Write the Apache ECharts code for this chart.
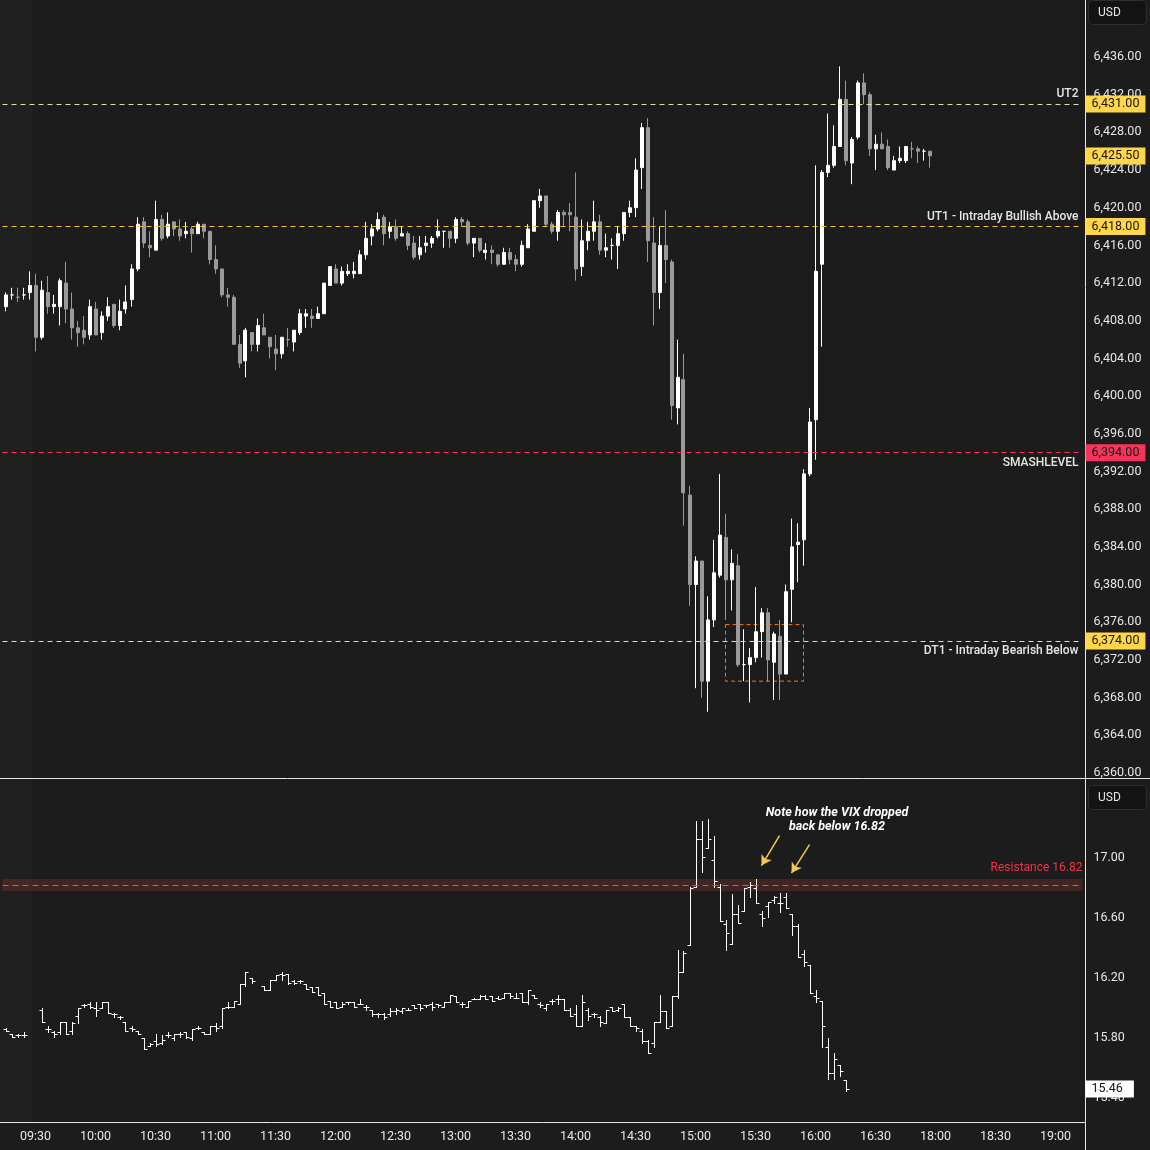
<!DOCTYPE html>
<html><head><meta charset="utf-8">
<script src="https://cdn.jsdelivr.net/npm/echarts@6/dist/echarts.min.js"></script>
<style>html,body{margin:0;padding:0;background:#1c1c1c;}#c{width:1150px;height:1150px;}</style>
</head><body><div id="c"></div>
<script>
// ---------- DATA ----------
function slots(h0, m0, h1, m1) {
  const out = [];
  for (let t = h0 * 60 + m0; t <= h1 * 60 + m1; t += 3) {
    out.push(String(Math.floor(t / 60)).padStart(2, '0') + ':' + String(t % 60).padStart(2, '0'));
  }
  return out;
}
// 3-minute bar slots (session break 17:00-18:00 is skipped)
const times = slots(9, 15, 16, 57).concat(slots(18, 0, 19, 12));

// ES futures 3-min candles, 09:15 ... 16:57
const esOpen = [
6409.5,6410.75,6410.5,6410.75,6411.0,6411.75,6406.25,6411.0,6409.5,
6409.5,6412.0,6409.25,6407.25,6407.0,6406.5,6409.25,6406.75,6408.5,6409.75,
6407.5,6409.25,6410.25,6413.5,6418.5,6416.0,6415.5,6418.75,6417.0,6418.5,
6417.75,6417.25,6417.75,6417.25,6418.25,6417.5,6414.5,6413.5,6410.75,6410.5,
6405.5,6403.75,6406.75,6405.5,6407.25,6406.25,6405.0,6404.5,6406.0,6405.75,
6406.75,6408.5,6408.5,6408.25,6408.75,6411.75,6413.5,6412.0,6413.0,6413.0,
6413.0,6415.0,6417.0,6417.75,6419.0,6417.5,6418.0,6417.0,6417.25,6416.25,
6415.0,6416.0,6416.25,6417.0,6417.5,6417.5,6416.75,6418.75,6418.5,6416.25,
6416.75,6415.25,6415.5,6415.0,6414.0,6415.25,6414.5,6414.0,6415.75,6417.5,
6420.75,6421.25,6418.25,6417.5,6419.5,6419.5,6419.0,6413.75,6416.5,6417.5,
6418.5,6415.5,6416.0,6416.0,6417.25,6419.5,6420.0,6424.25,6428.5,6416.25,
6411.0,6416.0,6414.25,6398.75,6401.75,6389.5,6380.0,6382.5,6369.75,6376.25,
6381.0,6385.0,6380.5,6382.0,6371.5,6371.5,6372.25,6375.0,6377.0,6371.75,
6374.5,6370.5,6379.5,6384.25,6384.75,6391.75,6397.5,6414.0,6423.75,6424.5,
6426.5,6431.5,6424.75,6427.5,6433.25,6432.0,6426.25,6426.75,6426.5,6424.0,
6425.0,6425.0,6426.25,6426.25,6426.0,6426.0];
const esHigh = [
6411.0,6411.5,6411.5,6411.5,6413.25,6413.0,6412.25,6412.75,6410.75,
6412.5,6414.25,6411.0,6408.0,6408.5,6410.25,6410.0,6409.0,6410.5,6409.75,
6410.25,6411.75,6414.0,6419.0,6419.0,6417.5,6420.75,6419.25,6419.5,6418.5,
6418.75,6418.5,6418.0,6418.5,6418.25,6417.5,6416.0,6413.5,6411.5,6410.75,
6406.5,6407.25,6406.75,6408.25,6408.75,6406.25,6406.5,6406.25,6407.25,6407.0,
6409.25,6409.25,6409.25,6409.5,6412.0,6413.75,6414.0,6413.75,6414.0,6414.25,
6415.5,6418.5,6418.25,6419.5,6419.25,6418.5,6418.75,6418.0,6417.5,6417.0,
6417.0,6417.0,6417.0,6418.75,6417.5,6417.5,6419.0,6419.0,6418.75,6416.75,
6416.75,6416.25,6416.0,6415.0,6415.75,6415.75,6415.0,6416.5,6418.25,6420.75,
6422.0,6421.25,6418.5,6419.75,6419.75,6420.5,6423.75,6418.75,6418.5,6420.75,
6419.25,6417.25,6416.75,6418.0,6419.5,6420.75,6425.25,6429.0,6429.5,6419.0,
6418.0,6419.75,6414.5,6406.0,6404.5,6390.5,6383.0,6382.5,6378.75,6384.75,
6391.75,6387.5,6383.75,6383.25,6375.25,6373.25,6379.75,6377.5,6377.5,6375.0,
6376.25,6380.0,6387.0,6386.5,6392.25,6398.75,6424.5,6424.0,6430.0,6428.75,
6435.0,6433.5,6427.5,6433.5,6434.25,6432.25,6427.75,6428.0,6427.25,6425.5,
6426.5,6426.5,6427.0,6426.5,6426.25,6426.0];
const esLow = [
6409.0,6410.25,6410.0,6410.25,6410.25,6404.75,6406.0,6408.75,6408.75,
6407.5,6407.75,6406.0,6405.25,6405.5,6406.0,6406.5,6406.0,6408.0,6407.25,
6407.0,6408.75,6409.5,6413.25,6415.75,6414.75,6415.5,6416.5,6416.75,6417.0,
6416.5,6416.75,6415.25,6417.25,6416.75,6414.0,6413.0,6410.5,6409.5,6405.5,
6403.0,6402.0,6404.75,6404.75,6406.5,6404.0,6402.75,6404.0,6405.25,6404.75,
6406.5,6407.25,6407.25,6408.25,6408.75,6411.75,6412.0,6411.75,6412.75,6412.5,
6413.0,6414.5,6416.0,6417.5,6416.0,6416.75,6416.5,6417.0,6415.5,6414.5,
6414.5,6415.25,6415.75,6416.75,6415.75,6415.75,6416.25,6418.0,6416.0,6414.75,
6415.25,6414.5,6414.0,6413.75,6414.0,6414.0,6413.25,6413.75,6415.75,6417.5,
6420.0,6418.0,6417.25,6416.5,6418.0,6417.5,6412.25,6412.75,6415.5,6416.5,
6415.0,6414.75,6414.5,6413.5,6416.5,6419.0,6419.0,6422.0,6414.25,6407.5,
6409.25,6412.0,6397.5,6397.0,6386.25,6377.75,6369.0,6368.0,6366.5,6375.5,
6380.75,6376.25,6377.25,6371.25,6369.75,6367.5,6371.75,6372.25,6369.75,6367.75,
6367.75,6370.5,6376.0,6380.25,6382.0,6391.5,6393.25,6405.25,6423.25,6424.25,
6426.5,6424.5,6422.5,6427.25,6431.0,6425.5,6424.0,6426.25,6424.0,6424.0,
6424.75,6424.75,6425.25,6424.75,6425.0,6424.25];
const esClose = [
6410.75,6410.75,6410.5,6410.75,6411.75,6406.25,6411.25,6409.5,6409.75,
6412.25,6409.25,6407.25,6406.75,6406.25,6409.5,6406.5,6408.5,6409.5,6407.5,
6409.0,6410.0,6413.5,6418.25,6416.25,6415.75,6418.75,6416.75,6418.25,6417.75,
6417.0,6417.5,6417.25,6418.25,6417.5,6414.5,6413.5,6410.75,6410.5,6405.5,
6403.5,6407.0,6405.5,6407.5,6406.5,6405.25,6404.5,6406.25,6406.0,6407.0,
6408.75,6408.75,6408.25,6408.75,6412.0,6413.75,6412.0,6413.25,6413.25,6413.25,
6415.0,6416.75,6417.75,6418.75,6417.25,6418.0,6416.75,6417.25,6416.0,6414.75,
6415.75,6416.25,6416.75,6417.5,6417.5,6416.75,6418.75,6418.5,6416.25,6416.75,
6415.5,6415.5,6415.25,6414.0,6415.25,6414.5,6414.0,6416.0,6417.75,6420.75,
6421.25,6418.25,6417.5,6419.5,6419.25,6419.25,6413.5,6416.5,6417.5,6418.5,
6415.5,6415.75,6416.0,6417.25,6419.5,6420.0,6424.0,6428.5,6416.5,6411.0,
6416.0,6414.5,6399.0,6402.0,6389.75,6380.0,6382.5,6369.75,6376.25,6381.25,
6385.25,6380.5,6382.25,6371.5,6371.5,6372.25,6375.0,6377.0,6372.0,6374.75,
6370.5,6379.25,6384.0,6384.5,6391.75,6397.25,6413.25,6423.75,6424.5,6426.5,
6431.5,6425.0,6427.25,6433.25,6432.0,6426.25,6426.75,6426.25,6424.25,6425.0,
6425.25,6426.5,6426.25,6426.0,6426.0,6425.5];

// VIX 3-min OHLC bars, 09:15 ... 16:15 (null = no bar)
const vixOpen = [
15.86,15.83,15.82,15.82,null,null,
15.99,15.86,15.84,15.84,15.91,15.85,15.95,16.02,16.03,16.00,
16.00,16.04,15.96,15.94,15.91,15.87,15.85,15.80,15.75,15.78,
15.77,15.82,15.80,15.83,15.84,15.80,15.87,15.84,15.83,15.88,
15.88,16.01,16.01,16.03,16.16,16.20,null,16.15,16.12,16.19,
16.23,16.23,16.18,16.18,16.16,16.14,16.14,16.10,16.05,16.04,
16.01,16.04,16.04,16.03,16.01,15.99,15.96,15.96,15.96,15.98,
15.98,15.99,16.02,16.03,16.02,16.03,16.03,16.01,16.04,16.08,
16.03,16.01,16.06,16.06,16.08,16.08,16.07,16.07,16.10,16.07,
16.10,16.04,16.09,16.03,16.00,16.05,16.06,16.06,15.99,15.96,
15.88,15.99,15.96,15.94,15.90,16.01,15.99,16.03,15.94,15.88,
15.85,15.78,15.77,15.91,15.98,15.88,16.08,16.24,16.42,16.81,
17.13,17.07,16.99,16.81,16.56,16.43,16.63,16.65,16.81,16.80,
16.63,16.68,16.72,16.70,16.74,16.63,16.55,16.36,16.29,16.08,
16.05,15.74,15.57,15.62,15.52];
const vixHigh = [
15.87,15.83,15.83,15.84,null,null,
16.00,15.88,15.85,15.91,15.91,15.91,16.00,16.03,16.04,16.04,
16.04,16.04,15.97,15.95,15.91,15.88,15.85,15.80,15.77,15.83,
15.82,15.84,15.83,15.84,15.84,15.86,15.88,15.84,15.88,15.90,
16.00,16.04,16.05,16.16,16.24,16.20,null,16.15,16.19,16.22,
16.24,16.23,16.19,16.19,16.16,16.14,16.14,16.10,16.05,16.04,
16.04,16.04,16.04,16.06,16.02,15.99,15.97,15.97,16.00,16.00,
16.00,16.00,16.02,16.03,16.02,16.04,16.03,16.04,16.09,16.08,
16.04,16.05,16.07,16.09,16.09,16.08,16.08,16.10,16.10,16.10,
16.10,16.12,16.09,16.04,16.03,16.06,16.09,16.06,16.00,16.02,
16.09,16.00,15.97,15.95,15.99,16.01,16.01,16.03,15.94,15.88,
15.86,15.79,15.91,16.09,15.98,16.08,16.39,16.38,16.81,17.25,
17.25,17.26,17.15,16.83,16.59,16.76,16.69,16.80,16.84,16.86,
16.65,16.71,16.75,16.77,16.77,16.63,16.56,16.39,16.29,16.12,
16.05,15.80,15.70,15.62,15.52];
const vixLow = [
15.85,15.81,15.81,15.81,null,null,
15.91,15.84,15.81,15.83,15.83,15.83,15.90,16.01,16.00,15.95,
16.00,15.97,15.94,15.93,15.85,15.85,15.83,15.73,15.75,15.75,
15.76,15.81,15.79,15.81,15.80,15.79,15.86,15.83,15.83,15.85,
15.87,16.00,16.01,16.03,16.15,16.17,null,16.12,16.12,16.19,
16.19,16.16,16.16,16.17,16.13,16.11,16.09,16.03,16.01,16.00,
16.01,16.03,16.01,16.03,15.99,15.95,15.94,15.93,15.95,15.96,
15.97,15.99,16.00,15.99,16.01,15.99,16.01,16.01,16.04,16.04,
16.01,16.01,16.06,16.06,16.06,16.05,16.06,16.07,16.07,16.07,
16.04,16.03,16.07,16.01,15.99,16.03,16.03,15.99,15.95,15.88,
15.88,15.92,15.94,15.88,15.90,15.98,15.98,15.94,15.88,15.85,
15.77,15.70,15.74,15.91,15.87,15.88,16.07,16.24,16.42,16.81,
16.91,17.07,16.81,16.58,16.39,16.43,16.57,16.65,16.74,16.70,
16.55,16.61,16.70,16.64,16.67,16.49,16.34,16.28,16.10,16.04,
15.74,15.53,15.53,15.55,15.45];
const vixClose = [
15.85,15.81,15.82,15.82,null,null,
15.91,15.86,15.83,15.91,15.83,15.90,16.00,16.02,16.01,15.99,
16.04,15.97,15.96,15.94,15.85,15.86,15.83,15.73,15.76,15.76,
15.79,15.82,15.83,15.83,15.81,15.86,15.87,15.83,15.88,15.87,
16.00,16.01,16.05,16.16,16.24,16.18,null,16.12,16.19,16.22,
16.22,16.17,16.17,16.18,16.13,16.11,16.09,16.03,16.01,16.00,
16.03,16.04,16.01,16.03,16.01,15.96,15.96,15.94,15.98,15.99,
16.00,15.99,16.00,16.00,16.02,16.01,16.02,16.04,16.09,16.04,
16.03,16.05,16.06,16.08,16.06,16.05,16.06,16.10,16.08,16.07,
16.04,16.12,16.07,16.02,16.03,16.05,16.06,15.99,15.95,15.88,
16.04,15.95,15.96,15.91,15.99,15.98,16.00,15.94,15.88,15.87,
15.78,15.70,15.91,15.98,15.87,16.08,16.24,16.37,16.80,17.13,
17.01,17.13,16.85,16.58,16.50,16.63,16.57,16.80,16.82,16.70,
16.60,16.71,16.74,16.70,16.67,16.55,16.34,16.31,16.10,16.07,
15.88,15.57,15.66,15.58,15.46];

// Price axis tick labels
const esTicks = [6360,6364,6368,6372,6376,6380,6384,6388,6392,6396,6400,6404,6408,6412,6416,6420,6424,6428,6432,6436];
const vixTicks = [15.40,15.80,16.20,16.60,17.00];

// Key levels
const levelValues = [6431, 6418, 6394, 6374];
const levelNames  = ['UT2', 'UT1 - Intraday Bullish Above', 'SMASHLEVEL', 'DT1 - Intraday Bearish Below'];
const vixResistance = 16.82;
const vixBand = [16.78, 16.86];
// Highlighted box (time range, price range)
const boxTimes = ['15:15', '15:54'];
const boxPrices = [6375.75, 6369.75];
// VIX note arrows [startTime, startVal, endTime, endVal]
const arrows = [['15:42', 17.15, '15:33', 16.95], ['15:57', 17.09, '15:48', 16.90]];

// ---------- CHART ----------
const FONT = 'Roboto, "Noto Sans", sans-serif';
const fmtP = v => v.toLocaleString('en-US', {minimumFractionDigits: 2, maximumFractionDigits: 2});
const YEL = '#ffd54a';

const candles = esOpen.map((o, i) => [o, esClose[i], esLow[i], esHigh[i]]);
const vixData = [];
vixOpen.forEach((o, i) => { if (o != null) vixData.push([i, o, vixHigh[i], vixLow[i], vixClose[i]]); });
const lastES = esClose[esClose.length - 1];
const lastVix = vixData[vixData.length - 1][4];

function tag(val, bg, fg, txt, padR) {
  return {yAxis: val, lineStyle: {color: 'rgba(0,0,0,0)', width: 1},
    label: {show: true, position: 'end', distance: 3, formatter: txt, backgroundColor: bg, color: fg,
      padding: [3, padR, 2, 6], fontSize: 12.5, lineHeight: 12, fontFamily: FONT}};
}
const levelColors = ['#e6dcb4', '#f2c230', '#ff2e55', '#e6dcb4'];
const levelPos = ['insideEndTop', 'insideEndTop', 'insideEndBottom', 'insideEndBottom'];
const levelTagBg = [YEL, YEL, '#f5365c', YEL];
const esMarkLines = [];
levelValues.forEach((v, i) => {
  esMarkLines.push({yAxis: v, lineStyle: {color: levelColors[i], type: [5, 4], width: 1},
    label: {show: true, position: levelPos[i], distance: [4, 4], formatter: levelNames[i], color: '#e6e6e6',
      fontSize: 12, fontFamily: FONT, fontWeight: 500}});
});
levelValues.forEach((v, i) => esMarkLines.push(tag(v, levelTagBg[i], '#151515', fmtP(v), 6)));
esMarkLines.push(tag(lastES, YEL, '#151515', fmtP(lastES), 6));

const vixMarkLines = [
  {yAxis: vixResistance, lineStyle: {color: '#e0564a', type: [6, 4], width: 1},
    label: {show: true, position: 'insideEndTop', distance: [0, 11], formatter: 'Resistance ' + vixResistance.toFixed(2),
      color: '#f23645', fontSize: 12, fontFamily: FONT}},
  tag(lastVix, '#ffffff', '#151515', lastVix.toFixed(2), 11)
];
arrows.forEach(a => {
  vixMarkLines.push([
    {coord: [a[0], a[1]], symbol: 'none', lineStyle: {color: '#f2c94c', width: 1.5, type: 'solid'}, label: {show: false}},
    {coord: [a[2], a[3]], symbol: 'arrow', symbolSize: [9, 10]}
  ]);
});

function renderOHLC(params, api) {
  const i = api.value(0);
  const h = api.coord([i, api.value(2)]);
  const l = api.coord([i, api.value(3)]);
  const o = api.coord([i, api.value(1)]);
  const c = api.coord([i, api.value(4)]);
  const cx = Math.round(h[0]) + 0.5;
  const oy = Math.round(o[1]) + 0.5, cy = Math.round(c[1]) + 0.5;
  const st = {stroke: '#ffffff', lineWidth: 1};
  return {type: 'group', children: [
    {type: 'line', shape: {x1: cx, y1: Math.round(h[1]), x2: cx, y2: Math.round(l[1]) + 1}, style: st},
    {type: 'line', shape: {x1: cx - 3, y1: oy, x2: cx, y2: oy}, style: st},
    {type: 'line', shape: {x1: cx, y1: cy, x2: cx + 3, y2: cy}, style: st}
  ]};
}

const chart = echarts.init(document.getElementById('c'), null, {renderer: 'canvas'});
chart.setOption({
  animation: false,
  backgroundColor: '#1c1c1c',
  textStyle: {fontFamily: FONT},
  grid: [
    {left: 2.5, width: 1080, top: 0, height: 778},
    {left: 2.5, width: 1080, top: 779, height: 343}
  ],
  xAxis: [
    {type: 'category', gridIndex: 0, data: times, axisLine: {show: false}, axisTick: {show: false},
      axisLabel: {show: false}, splitLine: {show: false}},
    {type: 'category', gridIndex: 1, data: times, axisLine: {show: false}, axisTick: {show: false},
      axisLabel: {show: true, color: '#e6e6e6', fontSize: 12.5, margin: 8, fontFamily: FONT,
        interval: (idx, val) => /:(00|30)$/.test(val)},
      splitLine: {show: false}}
  ],
  yAxis: [
    {type: 'value', gridIndex: 0, position: 'right', min: 6359.47, max: 6442.05, scale: true,
      axisLine: {show: false}, axisTick: {show: false}, splitLine: {show: false},
      axisLabel: {customValues: esTicks, color: '#e6e6e6', fontSize: 12.5, margin: 11, fontFamily: FONT,
        formatter: v => fmtP(v)}},
    {type: 'value', gridIndex: 1, position: 'right', min: 15.24, max: 17.527, scale: true,
      axisLine: {show: false}, axisTick: {show: false}, splitLine: {show: false},
      axisLabel: {customValues: vixTicks, color: '#e6e6e6', fontSize: 12.5, margin: 11, fontFamily: FONT,
        formatter: v => v.toFixed(2)}}
  ],
  series: [
    {type: 'candlestick', xAxisIndex: 0, yAxisIndex: 0, data: candles, barWidth: 3.5,
      itemStyle: {color: '#ffffff', color0: '#9a9a9a', borderColor: '#ffffff', borderColor0: '#9a9a9a', borderWidth: 1},
      markLine: {symbol: 'none', silent: true, animation: false, data: esMarkLines},
      markArea: {silent: true, data: [[
        {xAxis: boxTimes[0], yAxis: boxPrices[0], itemStyle: {color: 'rgba(0,0,0,0)', borderColor: '#f57c00', borderWidth: 1, borderType: [4, 3]}},
        {xAxis: boxTimes[1], yAxis: boxPrices[1]}
      ]]}
    },
    {type: 'custom', xAxisIndex: 1, yAxisIndex: 1, data: vixData, renderItem: renderOHLC,
      encode: {x: 0, y: [1, 2, 3, 4]},
      markArea: {silent: true, data: [[{yAxis: vixBand[0], itemStyle: {color: 'rgba(150,60,50,0.3)'}}, {yAxis: vixBand[1]}]]},
      markLine: {symbol: 'none', silent: true, animation: false, data: vixMarkLines}
    }
  ],
  graphic: [
    {type: 'rect', z: -1, shape: {x: 0, y: 0, width: 32, height: 1122}, style: {fill: 'rgba(255,255,255,0.02)'}},
    {type: 'line', z: 5, shape: {x1: 1085.5, y1: 0, x2: 1085.5, y2: 1150}, style: {stroke: '#e6e6e6', lineWidth: 1}},
    {type: 'line', z: 5, shape: {x1: 0, y1: 778.5, x2: 1150, y2: 778.5}, style: {stroke: '#e6e6e6', lineWidth: 1}},
    {type: 'line', z: 5, shape: {x1: 0, y1: 1122.5, x2: 1085, y2: 1122.5}, style: {stroke: '#e6e6e6', lineWidth: 1}},
    {type: 'rect', z: 5, shape: {x: 1088.5, y: 0.5, width: 58, height: 24, r: 4}, style: {fill: '#131313', stroke: '#2e2e2e'}},
    {type: 'text', z: 6, style: {text: 'USD', x: 1098, y: 13, textVerticalAlign: 'middle', fill: '#e6e6e6', font: '12px ' + FONT}},
    {type: 'rect', z: 5, shape: {x: 1088.5, y: 785.5, width: 58, height: 24, r: 4}, style: {fill: '#131313', stroke: '#2e2e2e'}},
    {type: 'text', z: 6, style: {text: 'USD', x: 1098, y: 798, textVerticalAlign: 'middle', fill: '#e6e6e6', font: '12px ' + FONT}},
    {type: 'text', z: 6, style: {text: 'Note how the VIX dropped', x: 837, y: 813, textAlign: 'center', textVerticalAlign: 'middle', fill: '#ffffff', font: 'italic bold 12.5px ' + FONT}},
    {type: 'text', z: 6, style: {text: 'back below 16.82', x: 837, y: 827, textAlign: 'center', textVerticalAlign: 'middle', fill: '#ffffff', font: 'italic bold 12.5px ' + FONT}}
  ]
});
</script>
</body></html>
